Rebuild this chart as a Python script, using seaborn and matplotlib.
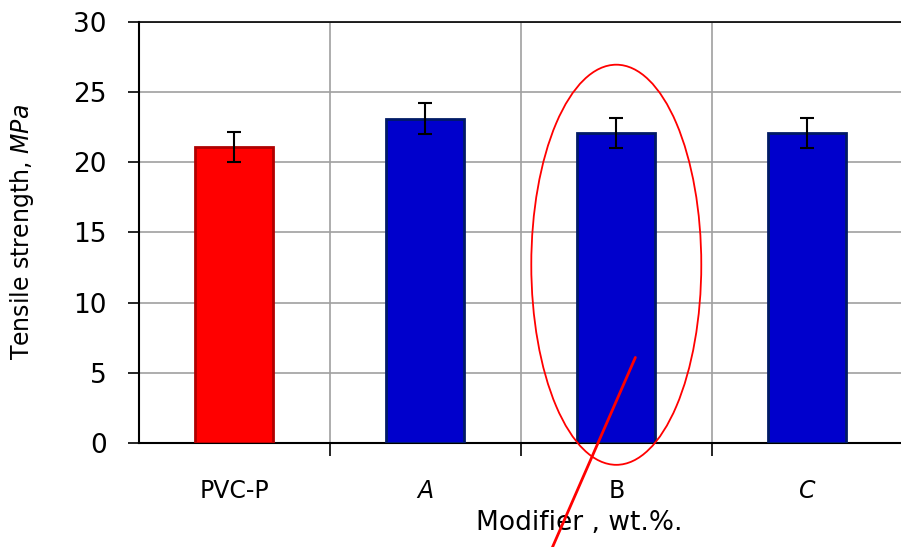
import matplotlib
matplotlib.use("Agg")
from matplotlib import pyplot as plt
from matplotlib.patches import Ellipse
import seaborn as sns

# datos
categorias = ["PVC-P", "A", "B", "C"]
resistencia = [21.1, 23.1, 22.1, 22.1]
error = [1.05, 1.1, 1.05, 1.05]
colores = ["#ff0000", "#0000cc", "#0000cc", "#0000cc"]
bordes = ["#b00000", "#001a66", "#001a66", "#001a66"]
etiquetas_y = [0, 5, 10, 15, 20, 25, 30]

sns.set_style("white")
plt.rcParams['font.family'] = ['DejaVu Sans']
plt.rcParams['text.color'] = 'black'
plt.rcParams['axes.labelcolor'] = 'black'
plt.rcParams['xtick.color'] = 'black'
plt.rcParams['ytick.color'] = 'black'

fig = plt.figure(figsize=(9.01, 5.47), dpi=100)
ax = fig.add_axes([0.154, 0.19, 0.848, 0.77])

sns.barplot(x=categorias, y=resistencia, hue=categorias, palette=colores,
            saturation=1, width=0.41, legend=False, ax=ax, zorder=3)
for barra, borde in zip(ax.patches, bordes):
    barra.set_edgecolor(borde)
    barra.set_linewidth(2)

ax.errorbar(range(len(categorias)), resistencia, yerr=error, fmt="none",
            ecolor="black", elinewidth=1.5, capsize=5, capthick=1.5, zorder=4)

ax.set_xlim(-0.5, 3.5)
ax.set_ylim(0, 30)
ax.set_yticks(etiquetas_y)
ax.set_yticklabels([str(v) for v in etiquetas_y], fontsize=19)
ax.set_xticks(range(len(categorias)))
ax.set_xticklabels(categorias, fontsize=17)
for lab in ax.get_xticklabels():
    if lab.get_text() in ("A", "C"):
        lab.set_fontstyle("italic")
ax.set_xticks([0.5, 1.5, 2.5, 3.5], minor=True)
ax.tick_params(axis="x", which="major", bottom=True, length=0, pad=26)
ax.tick_params(axis="x", which="minor", bottom=True, length=9, width=1.2,
               color="black", direction="out")
ax.tick_params(axis="y", which="major", left=True, length=8, width=1.2,
               color="black", direction="out", pad=15)

ax.grid(axis="y", which="major", color="#a0a0a0", linewidth=1.2, zorder=0)
ax.grid(axis="x", which="minor", color="#a0a0a0", linewidth=1.2, zorder=0)
ax.set_axisbelow(True)

ax.spines["right"].set_visible(False)
ax.spines["top"].set_color("black")
ax.spines["top"].set_linewidth(1.2)
ax.spines["left"].set_color("black")
ax.spines["left"].set_linewidth(1.5)
ax.spines["bottom"].set_color("black")
ax.spines["bottom"].set_linewidth(1.5)

ax.set_ylabel(r"Tensile strength, $\it{MPa}$", fontsize=17)
ax.yaxis.set_label_coords(-0.135, 0.5)
ax.set_xlabel("Modifier , wt.%.", fontsize=19)
ax.xaxis.set_label_coords(0.577, -0.16)

# marca roja alrededor de B
ax.add_patch(Ellipse((2, 12.7), 0.89, 28.5, fill=False, edgecolor="red",
                     linewidth=1.3, clip_on=False, zorder=5))
ax.plot([2.10, 1.66], [6.1, -7.6], color="red", linewidth=2, clip_on=False, zorder=5)

fig.savefig("out.png", dpi=100)
